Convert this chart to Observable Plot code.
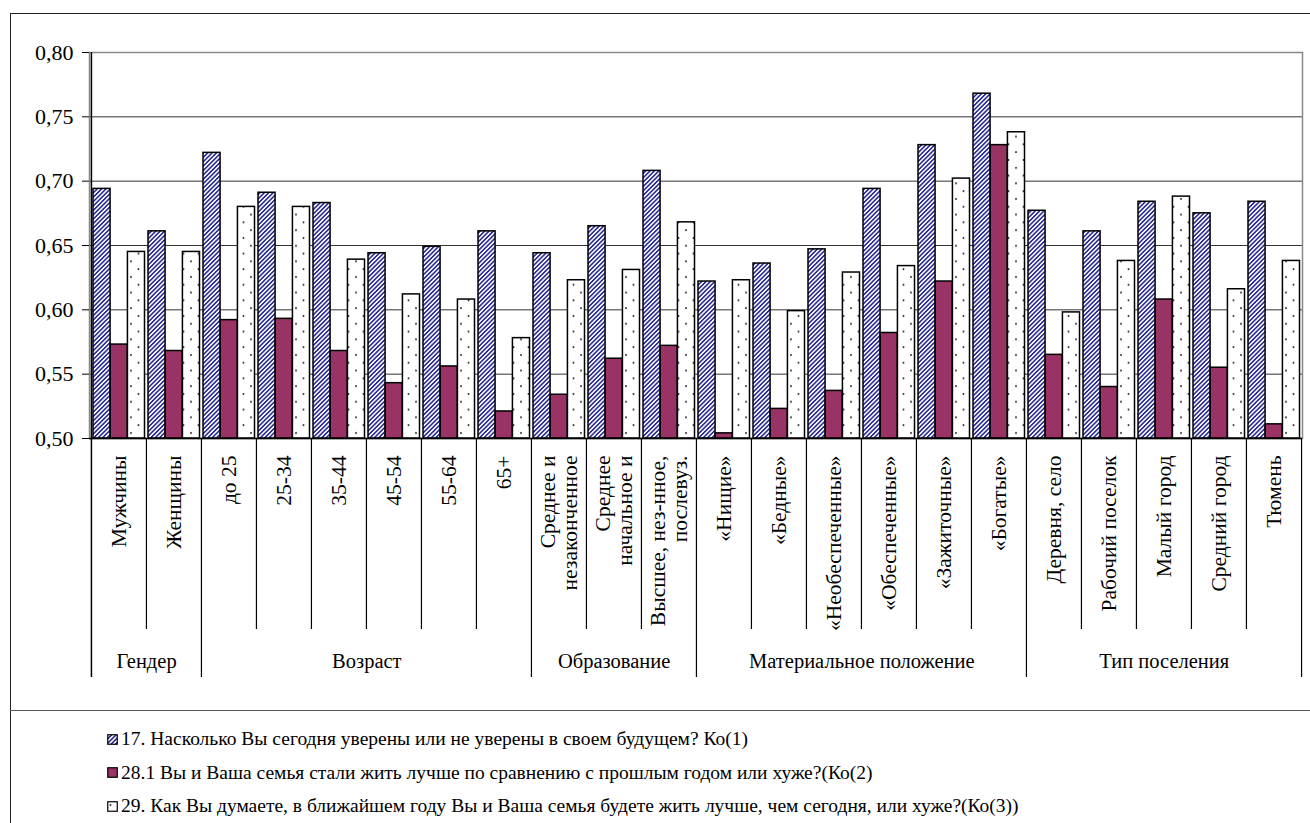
<!DOCTYPE html>
<html>
<head>
<meta charset="utf-8">
<script src="https://cdn.jsdelivr.net/npm/d3@7"></script>
<script src="https://cdn.jsdelivr.net/npm/@observablehq/plot@0.6"></script>
<style>
  html, body { margin: 0; padding: 0; background: #fff; overflow: hidden; }
  body { width: 1310px; height: 823px; position: relative; font-family: "Liberation Serif", "Times New Roman", serif; }
  #frame { position: absolute; left: 10px; top: 13px; width: 1330px; height: 840px; border: 1.5px solid #222; box-sizing: border-box; }
  #chart { position: absolute; left: 0; top: 0; }
  #sep { position: absolute; left: 10px; top: 710px; width: 1310px; border-top: 1.5px solid #555; }
  .item { position: absolute; left: 107px; height: 24px; line-height: 24px; font-size: 19.5px; font-family: "Liberation Serif", serif; color: #000; white-space: nowrap; display: flex; align-items: center; }
  .item svg { margin-right: 3px; }
</style>
</head>
<body>
<div id="frame"></div>
<div id="chart"></div>
<div id="sep"></div>
<div id="legend"></div>
<script>
// ---- data ----
const categories = ["Мужчины","Женщины","до 25","25-34","35-44","45-54","55-64","65+",
  "Среднее и\nнезаконченное","Среднее\nначальное и","Высшее, нез-нное,\nпослевуз.",
  "«Нищие»","«Бедные»","«Необеспеченные»","«Обеспеченные»","«Зажиточные»","«Богатые»",
  "Деревня, село","Рабочий поселок","Малый город","Средний город","Тюмень"];
const q17 = [0.694,0.661,0.722,0.691,0.683,0.644,0.649,0.661,0.644,0.665,0.708,0.622,0.636,0.647,0.694,0.728,0.768,0.677,0.661,0.684,0.675,0.684];
const q28 = [0.573,0.568,0.592,0.593,0.568,0.543,0.556,0.521,0.534,0.562,0.572,0.504,0.523,0.537,0.582,0.622,0.728,0.565,0.540,0.608,0.555,0.511];
const q29 = [0.645,0.645,0.680,0.680,0.639,0.612,0.608,0.578,0.623,0.631,0.668,0.623,0.599,0.629,0.634,0.702,0.738,0.598,0.638,0.688,0.616,0.638];
const groups = ["Гендер","Возраст","Образование","Материальное положение","Тип поселения"];
const groupSizes = [2,6,3,6,5];
const seriesNames = [
  "17. Насколько Вы сегодня уверены или не уверены в своем будущем? Ко(1)",
  "28.1 Вы и Ваша семья стали жить лучше по сравнению с прошлым годом или хуже?(Ко(2)",
  "29. Как Вы думаете, в ближайшем году Вы и Ваша семья будете жить лучше, чем сегодня, или хуже?(Ко(3))"
];
const yTicks = [0.50,0.55,0.60,0.65,0.70,0.75,0.80];
const seriesFills = ["url(#hatch)", "#993366", "url(#dots)"];

// ---- layout ----
const FONT = "Liberation Serif, Times New Roman, serif";
const W = 1310, H = 711, ML = 89, MR = 8, MT = 52, MB = 273;
const n = categories.length;
const bw = (W - ML - MR) / n;
const plotH = H - MT - MB;
const padL = 2.0, padR = 1.5;
const barW = (bw - padL - padR) / 3;

const series = [q17, q28, q29];
const rows = series.map(vals => vals.map((v, i) => ({cat: categories[i], value: v})));

const groupStarts = [];
{ let s = 0; for (const g of groupSizes) { groupStarts.push(s); s += g; } }
const groupStartCats = groupStarts.map(i => categories[i]);
const innerCats = categories.filter((c, i) => !groupStarts.includes(i));

const marks = [
  Plot.gridY(yTicks, {stroke: "#333", strokeOpacity: 1, strokeWidth: 1}),
  Plot.frame({stroke: "#888", strokeWidth: 1.5}),
  ...rows.map((data, k) => Plot.barY(data, {
    x: "cat", y1: 0.5, y2: "value",
    fill: seriesFills[k], stroke: "#000", strokeWidth: 1.5,
    insetLeft: padL + k * barW,
    insetRight: bw - padL - (k + 1) * barW
  })),
  Plot.ruleY([0.5], {stroke: "#000", strokeWidth: 1.5}),
  Plot.ruleX([categories[0]], {x: d => d, dx: -bw / 2, insetTop: 0, insetBottom: -239, stroke: "#000", strokeWidth: 1.5}),
  Plot.ruleX(groupStartCats.slice(1), {x: d => d, dx: -bw / 2, insetTop: plotH, insetBottom: -239, stroke: "#000", strokeWidth: 1.2}),
  Plot.ruleX([categories[n - 1]], {x: d => d, dx: bw / 2, insetTop: plotH, insetBottom: -239, stroke: "#000", strokeWidth: 1.2}),
  Plot.ruleX(innerCats, {x: d => d, dx: -bw / 2, insetTop: plotH, insetBottom: -191, stroke: "#000", strokeWidth: 1.2}),
  Plot.axisY(yTicks, {tickSize: 7, tickPadding: 9, tickFormat: d => d.toFixed(2).replace(".", ","), fontSize: 22, fontFamily: FONT, label: null, stroke: "#000", fill: "#000"}),
  Plot.text(categories, {x: d => d, frameAnchor: "bottom", dy: 17, rotate: -90, textAnchor: "end", lineAnchor: "middle", lineHeight: 1.0, fontSize: 21.5, fontFamily: FONT, fill: "#000"}),
  ...groups.map((g, gi) => Plot.text([g], {
    x: () => categories[groupStarts[gi]],
    dx: (groupSizes[gi] - 1) * bw / 2,
    frameAnchor: "bottom", dy: 223, lineAnchor: "middle", fontSize: 20.5, fontFamily: FONT, fill: "#000"
  }))
];

const chart = Plot.plot({
  width: W, height: H,
  marginLeft: ML, marginRight: MR, marginTop: MT, marginBottom: MB,
  x: {domain: categories, padding: 0, axis: null},
  y: {domain: [0.5, 0.8], axis: null},
  style: {fontFamily: FONT, background: "transparent", color: "#000", overflow: "visible"},
  marks
});

const ns = "http://www.w3.org/2000/svg";
const defs = document.createElementNS(ns, "defs");
defs.innerHTML = `
  <pattern id="hatch" patternUnits="userSpaceOnUse" width="3.1" height="3.1" patternTransform="rotate(45)">
    <rect width="3.1" height="3.1" fill="#ffffff"/>
    <rect width="1.6" height="3.1" fill="#2b2b94"/>
  </pattern>
  <pattern id="dots" patternUnits="userSpaceOnUse" width="15" height="15.6">
    <rect width="15" height="15.6" fill="#ffffff"/>
    <circle cx="3.5" cy="4" r="1" fill="#333"/>
    <circle cx="11" cy="11.8" r="1" fill="#333"/>
  </pattern>`;
chart.insertBefore(defs, chart.firstChild);
document.getElementById("chart").appendChild(chart);

const legend = document.getElementById("legend");
seriesNames.forEach((name, k) => {
  const div = document.createElement("div");
  div.className = "item";
  div.style.top = (727 + k * 33.5) + "px";
  div.innerHTML = `<svg width="11" height="11"><rect x="0.75" y="0.75" width="9.5" height="9.5" fill="${seriesFills[k]}" stroke="#000" stroke-width="1.2"/></svg><span></span>`;
  div.querySelector("span").textContent = name;
  legend.appendChild(div);
});
</script>
</body>
</html>
